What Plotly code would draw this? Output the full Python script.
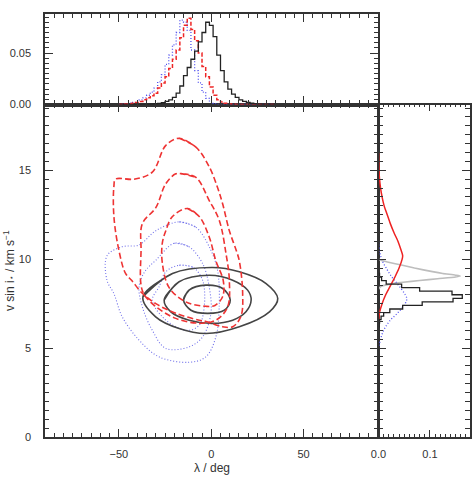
import plotly.graph_objects as go

# ---------------- data ----------------
# top panel: lambda histograms (bin centres, deg)
lam_centers = [-50, -48, -46, -44, -42, -40, -38, -36, -34, -32, -30, -28, -26, -24, -22,
               -20, -18, -16, -14, -12, -10, -8, -6, -4, -2, 0, 2, 4, 6, 8,
               10, 12, 14, 16, 18, 20, 22, 24, 26, 28, 30, 32, 34]
lam_black = [0, 0, 0, 0, 0, 0, 0, 0, 0.0002, 0.0004, 0.0007, 0.001, 0.0017, 0.003, 0.0045,
             0.007, 0.011, 0.018, 0.028, 0.036, 0.044, 0.052, 0.061, 0.070, 0.080, 0.077, 0.066, 0.048, 0.033, 0.022,
             0.015, 0.010, 0.007, 0.0045, 0.003, 0.002, 0.0012, 0.0007, 0.0004, 0.0002, 0, 0, 0]
lam_red = [0, 0.0003, 0.0005, 0.0008, 0.0012, 0.002, 0.003, 0.0045, 0.0065, 0.0085, 0.011, 0.016, 0.021, 0.027, 0.035,
           0.044, 0.053, 0.065, 0.077, 0.084, 0.073, 0.062, 0.050, 0.037, 0.027, 0.017, 0.009, 0.0045, 0.0025, 0.0012,
           0.0006, 0.0003, 0.0001, 0, 0, 0, 0, 0, 0, 0, 0, 0, 0]
lam_blue = [0.0002, 0.0004, 0.0007, 0.0012, 0.002, 0.003, 0.0045, 0.0065, 0.009, 0.012, 0.016, 0.022, 0.029, 0.039, 0.048,
            0.058, 0.070, 0.082, 0.080, 0.072, 0.053, 0.033, 0.021, 0.012, 0.006, 0.0025, 0.0008, 0.0002, 0, 0,
            0, 0, 0, 0, 0, 0, 0, 0, 0, 0, 0, 0, 0]

# right panel: v sin i distributions
vs_bins = [6.1, 6.3, 6.5, 6.7, 6.9, 7.1, 7.3, 7.5, 7.7, 7.9, 8.1, 8.3, 8.5, 8.7, 8.9, 9.1, 9.3]
vs_black = [0, 0.001, 0.002, 0.005, 0.010, 0.022, 0.047, 0.085, 0.145, 0.163, 0.143, 0.080, 0.045, 0.015, 0.006, 0.002, 0]

vs_red_y = [16.0, 15.0, 14.5, 14.0, 13.5, 13.0, 12.5, 12.0, 11.5, 11.0, 10.5, 10.2, 10.0, 9.5, 9.0, 8.5, 8.0, 7.5, 7.0, 6.5]
vs_red_x = [0.0, 0.001, 0.002, 0.004, 0.007, 0.011, 0.017, 0.023, 0.030, 0.038, 0.044, 0.047, 0.046, 0.040, 0.032,
            0.023, 0.014, 0.007, 0.002, 0.0]

vs_blue_y = [11.0, 10.5, 10.0, 9.5, 9.0, 8.5, 8.0, 7.8, 7.5, 7.0, 6.5, 6.0, 5.5, 5.0]
vs_blue_x = [0.0, 0.002, 0.006, 0.015, 0.026, 0.040, 0.052, 0.055, 0.052, 0.038, 0.021, 0.010, 0.004, 0.0]

vs_gray_y = [10.0, 9.9, 9.7, 9.5, 9.3, 9.2, 9.1, 9.05, 9.0, 8.9, 8.8, 8.7, 8.6, 8.5, 8.4, 8.3]
vs_gray_x = [0.0, 0.01, 0.04, 0.07, 0.105, 0.125, 0.150, 0.159, 0.150, 0.115, 0.080, 0.048, 0.022, 0.008, 0.002, 0.0]

# main panel: contour paths (lambda, v sin i)
black_c1_x = [-15.0, -12.0, -2.9, 6.2, 10.3, 7.1, -2.0, -11.0]
black_c1_y = [7.70, 8.26, 8.54, 8.35, 7.70, 7.13, 6.95, 7.13]
black_c2_x = [-25.5, -17.4, -1.1, 11.6, 19.7, 21.6, 18.8, 11.6, 0.7, -12.0, -21.9]
black_c2_y = [7.70, 8.73, 9.10, 8.82, 8.26, 7.70, 7.04, 6.57, 6.39, 6.57, 7.04]
black_c3_x = [-37.0, -21.0, 0.7, 15.2, 29.7, 36.0, 31.5, 15.2, -2.9, -17.4, -30.1]
black_c3_y = [7.88, 9.19, 9.53, 9.29, 8.63, 7.79, 7.04, 6.20, 5.82, 6.10, 6.76]

red_c1_x = [-12.9, -6.5, -1.1, 2.5, 6.5, 6.2, 2.0, -2.9, -13.8, -22.8, -26.5, -26.5, -24.6, -21.0]
red_c1_y = [12.85, 12.4, 11.25, 9.9, 8.8, 7.9, 7.4, 7.35, 7.6, 8.4, 9.8, 10.9, 11.6, 12.4]
red_c2_x = [-15.6, -8.3, -1.1, 4.3, 8.0, 9.8, 8.8, 2.5, -6.5, -20.0, -33.0, -37.5, -38.0, -37.3, -30.0, -24.6, -19.2]
red_c2_y = [14.8, 14.6, 13.3, 12.2, 10.3, 8.8, 7.3, 6.57, 6.4, 6.7, 7.6, 8.3, 10.5, 12.0, 12.9, 14.25, 14.8]
red_c3_x = [-17.4, -8.3, -1.1, 3.5, 6.2, 9.8, 13.5, 15.2, 17.0, 16.1, 11.6, 6.2, -2.9, -6.5, -19.0, -30.0,
            -37.5, -43.0, -46.4, -50.0, -52.7, -52.7, -51.8, -41.8, -31.9, -24.6]
red_c3_y = [16.8, 16.3, 15.2, 14.0, 13.1, 11.6, 10.5, 9.9, 8.1, 6.8, 6.2, 6.2, 6.5, 6.57, 6.95, 7.5,
            8.1, 8.8, 9.2, 10.5, 12.4, 14.1, 14.5, 14.5, 14.9, 16.4]

blue_c1_x = [-17.4, -10.0, -4.7, -3.8, -6.5, -12.0, -19.2, -26.5, -31.9, -28.3, -24.6]
blue_c1_y = [9.66, 9.55, 8.82, 7.32, 6.29, 6.0, 6.2, 6.76, 7.7, 8.44, 9.29]
blue_c2_x = [-20.0, -12.0, -4.7, -1.1, -0.2, -4.7, -12.0, -24.6, -31.9, -37.3, -39.1, -36.0, -30.0]
blue_c2_y = [10.9, 10.7, 9.76, 8.44, 6.95, 5.63, 5.07, 4.98, 6.0, 7.32, 8.44, 9.3, 9.94]
blue_c3_x = [-17.4, -8.3, -1.1, 3.4, 4.3, 2.5, -2.9, -12.0, -28.3, -39.1, -48.2, -52.7, -56.4, -56.4,
             -48.2, -39.1, -30.0]
blue_c3_y = [12.1, 11.8, 10.7, 9.38, 7.32, 5.63, 4.51, 4.2, 4.51, 5.45, 6.76, 8.07, 8.8, 10.2,
             10.7, 10.8, 11.6]

# ---------------- styles ----------------
BLACK = "#454545"
RED = "#ee3333"
BLUE = "#7070ea"
AX = "#333333"
FONT = "Liberation Sans, Arial, sans-serif"

fig = go.Figure()


def closed(xs, ys):
    return list(xs) + [xs[0], xs[1]], list(ys) + [ys[0], ys[1]]


for cx, cy in [(blue_c1_x, blue_c1_y), (blue_c2_x, blue_c2_y), (blue_c3_x, blue_c3_y)]:
    X, Y = closed(cx, cy)
    fig.add_trace(go.Scatter(x=X, y=Y, mode="lines",
                             line=dict(color=BLUE, width=1.1, dash="1px,2px", shape="spline", smoothing=1.0),
                             xaxis="x", yaxis="y", hoverinfo="skip"))
for cx, cy in [(black_c1_x, black_c1_y), (black_c2_x, black_c2_y), (black_c3_x, black_c3_y)]:
    X, Y = closed(cx, cy)
    fig.add_trace(go.Scatter(x=X, y=Y, mode="lines", line=dict(color=BLACK, width=1.6, shape="spline", smoothing=1.0),
                             xaxis="x", yaxis="y", hoverinfo="skip"))
for cx, cy in [(red_c1_x, red_c1_y), (red_c2_x, red_c2_y), (red_c3_x, red_c3_y)]:
    X, Y = closed(cx, cy)
    fig.add_trace(go.Scatter(x=X, y=Y, mode="lines",
                             line=dict(color=RED, width=1.6, dash="6px,3px", shape="spline", smoothing=1.0),
                             xaxis="x", yaxis="y", hoverinfo="skip"))

# top histograms
fig.add_trace(go.Scatter(x=lam_centers, y=lam_blue, mode="lines",
                         line=dict(color="#5050ee", width=1.3, dash="1px,2px", shape="hvh"),
                         xaxis="x2", yaxis="y2", hoverinfo="skip"))
fig.add_trace(go.Scatter(x=lam_centers, y=lam_red, mode="lines",
                         line=dict(color="#ee2626", width=1.5, dash="4px,2px", shape="hvh"),
                         xaxis="x2", yaxis="y2", hoverinfo="skip"))
fig.add_trace(go.Scatter(x=lam_centers, y=lam_black, mode="lines",
                         line=dict(color="#222222", width=1.3, shape="hvh"),
                         xaxis="x2", yaxis="y2", hoverinfo="skip"))

# right panel distributions
fig.add_trace(go.Scatter(x=vs_gray_x, y=vs_gray_y, mode="lines",
                         line=dict(color="#bdbdbd", width=1.6, shape="spline", smoothing=0.6),
                         xaxis="x3", yaxis="y3", hoverinfo="skip"))
fig.add_trace(go.Scatter(x=vs_blue_x, y=vs_blue_y, mode="lines",
                         line=dict(color="#5050ee", width=1.3, dash="1px,2px", shape="spline"),
                         xaxis="x3", yaxis="y3", hoverinfo="skip"))
fig.add_trace(go.Scatter(x=vs_red_x, y=vs_red_y, mode="lines",
                         line=dict(color="#ee2222", width=1.5, shape="spline"),
                         xaxis="x3", yaxis="y3", hoverinfo="skip"))
fig.add_trace(go.Scatter(x=vs_black, y=vs_bins, mode="lines",
                         line=dict(color="#222222", width=1.3, shape="vhv"),
                         xaxis="x3", yaxis="y3", hoverinfo="skip"))

W, H = 475, 479
xl, xm, xr0, xr1 = 45, 377.5, 378.5, 470
yt0, ym, yb = 13.5, 104.5, 437


def px(a):
    return a / W


def py(b):
    return 1 - b / H


def axis(**kw):
    base = dict(showline=True, linecolor=AX, linewidth=1.5, mirror="allticks", ticks="inside",
                tickcolor=AX, tickwidth=1.3, showgrid=False, zeroline=False, automargin=False,
                tickfont=dict(family=FONT, size=11, color="#333"), ticklabelstandoff=6)
    base.update(kw)
    return base


LAM_RANGE = [-90, 90]
VS_RANGE = [0, 18.7]

ylabel = ("v sin i<span style=\"font-family:DejaVu Sans;font-size:8px\">\u22c6</span>"
          " / km s<sup>\u22121</sup>")

fig.update_layout(
    template="none",
    width=W, height=H, margin=dict(l=0, r=0, t=0, b=0, autoexpand=False),
    paper_bgcolor="white", plot_bgcolor="white", showlegend=False,
    xaxis=axis(domain=[px(xl), px(xm)], range=LAM_RANGE, tickmode="array", tickvals=[-50, 0, 50],
               ticktext=["\u221250", "0", "50"], ticklen=8,
               minor=dict(dtick=5, tick0=0, ticklen=4, ticks="inside", tickcolor=AX, tickwidth=1.2),
               anchor="y"),
    yaxis=axis(domain=[py(yb), py(ym)], range=VS_RANGE, dtick=5, tick0=0, ticklen=8,
               ticklabelstandoff=10,
               minor=dict(dtick=0.5, tick0=0, ticklen=4, ticks="inside", tickcolor=AX, tickwidth=1.2),
               anchor="x"),
    xaxis2=axis(domain=[px(xl), px(xm)], range=LAM_RANGE, dtick=50, tick0=0, ticklen=9,
                showticklabels=False,
                minor=dict(dtick=5, tick0=0, ticklen=5, ticks="inside", tickcolor=AX, tickwidth=1.2),
                anchor="y2"),
    yaxis2=axis(domain=[py(ym), py(yt0)], range=[0, 0.0885], tickmode="array", tickvals=[0, 0.05],
                ticktext=["0.00", "0.05"], ticklen=8, ticklabelstandoff=10,
                zeroline=True, zerolinecolor="#8a8a8a", zerolinewidth=4,
                minor=dict(dtick=0.005, tick0=0, ticklen=4, ticks="inside", tickcolor=AX, tickwidth=1.2),
                anchor="x2"),
    xaxis3=axis(domain=[px(xr0), px(xr1)], range=[0, 0.178], tickmode="array", tickvals=[0, 0.1],
                ticktext=["0.0", "0.1"], ticklen=7,
                zeroline=True, zerolinecolor="#8a8a8a", zerolinewidth=4,
                minor=dict(dtick=0.01, tick0=0, ticklen=3, ticks="inside", tickcolor=AX, tickwidth=1.2),
                anchor="y3"),
    yaxis3=axis(domain=[py(yb), py(ym)], range=VS_RANGE, dtick=5, tick0=0, ticklen=8,
                showticklabels=False,
                minor=dict(dtick=0.5, tick0=0, ticklen=5, ticks="inside", tickcolor=AX, tickwidth=1.2),
                anchor="x3"),
    annotations=[
        dict(text="\u03bb / deg", x=px(212), y=py(468), xref="paper", yref="paper",
             showarrow=False, font=dict(family=FONT, size=12, color="#333"), xanchor="center", yanchor="middle"),
        dict(text=ylabel, x=px(9), y=py(271), xref="paper", yref="paper",
             showarrow=False, textangle=-90, font=dict(family=FONT, size=12, color="#333"),
             xanchor="center", yanchor="middle"),
    ],
)

fig.write_html("out.html")
